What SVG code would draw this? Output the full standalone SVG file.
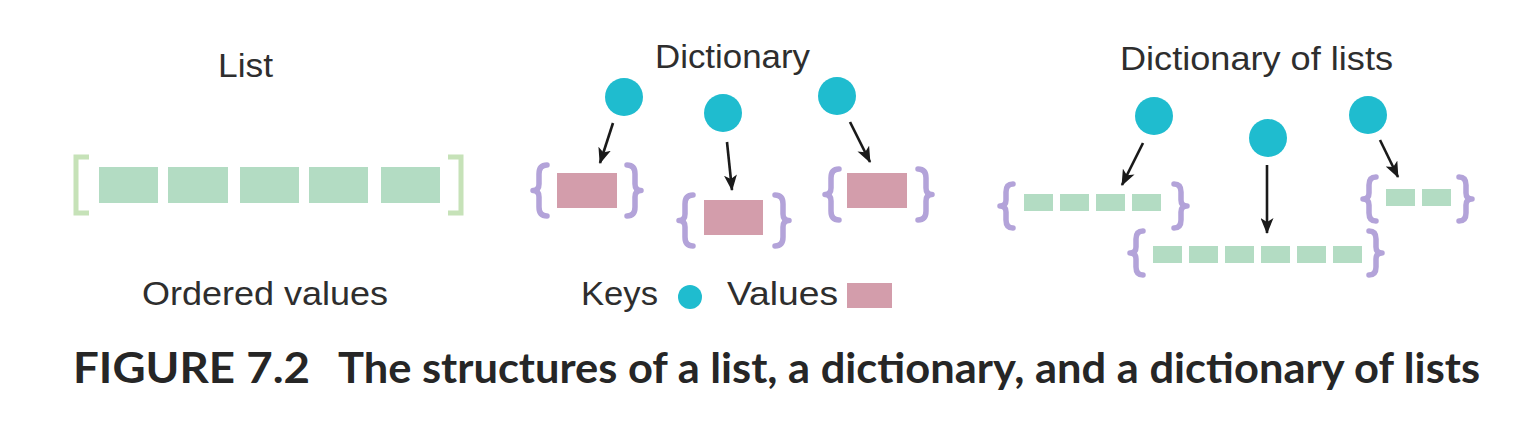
<svg xmlns="http://www.w3.org/2000/svg" width="1536" height="430" viewBox="0 0 1536 430">
<style>
.lbl{font-family:"Liberation Sans",Arial,sans-serif;font-size:34px;fill:#2e2e2e}
.cap{font-family:Lato,"Open Sans",sans-serif;font-weight:bold;font-size:42px;fill:#262626}
.key{fill:#1fbccf}
.val{fill:#d39dab}
.item{fill:#b3dcc3}
.brace{fill:none;stroke:#b3a3d9;stroke-width:5.5;stroke-linecap:round;stroke-linejoin:round}
.bracket{fill:none;stroke:#c6e2b8;stroke-width:5}
.arrow{stroke:#1a1a1a;stroke-width:2.6;fill:none;marker-end:url(#ah)}
</style>
<defs>
<marker id="ah" markerWidth="16" markerHeight="13" refX="15" refY="6.5" orient="auto" markerUnits="userSpaceOnUse">
<path d="M0,0 L16,6.5 L0,13 L4,6.5 Z" fill="#1a1a1a"/>
</marker>
<path id="braceL55" class="brace" d="M16,2 Q8,2 8,11 L8,21 Q8,27.5 2,27.5 Q8,27.5 8,34 L8,44 Q8,53 16,53"/>
<path id="braceL48" class="brace" d="M15,2 Q8,2 8,10 L8,18 Q8,24 2,24 Q8,24 8,30 L8,38 Q8,46 15,46"/>
</defs>
<rect width="1536" height="430" fill="#ffffff"/>

<!-- List -->
<g id="list">
<text class="lbl" x="218" y="77" textLength="55" lengthAdjust="spacingAndGlyphs">List</text>
<path class="bracket" d="M89,157 L76,157 L76,213 L89,213"/>
<path class="bracket" d="M448,157 L461,157 L461,213 L448,213"/>
<rect class="item" x="99" y="167" width="59" height="36"/>
<rect class="item" x="168" y="167" width="60" height="36"/>
<rect class="item" x="240" y="167" width="59" height="36"/>
<rect class="item" x="309" y="167" width="59" height="36"/>
<rect class="item" x="381" y="167" width="59" height="36"/>
<text class="lbl" x="142" y="305" textLength="246" lengthAdjust="spacingAndGlyphs">Ordered values</text>
</g>

<!-- Dictionary -->
<g id="dictionary">
<text class="lbl" x="655" y="68" textLength="155" lengthAdjust="spacingAndGlyphs">Dictionary</text>
<g id="dict-key1"><circle class="key" cx="624" cy="97" r="19"/></g>
<g id="dict-key2"><circle class="key" cx="723" cy="113" r="19"/></g>
<g id="dict-key3"><circle class="key" cx="837" cy="96" r="19"/></g>
<g id="dict-val1">
<use href="#braceL55" transform="translate(531,163)"/>
<use href="#braceL55" transform="translate(643,163) scale(-1,1)"/>
<rect class="val" x="557" y="173" width="60" height="35"/>
</g>
<g id="dict-val2">
<use href="#braceL55" transform="translate(677,193)"/>
<use href="#braceL55" transform="translate(791,193) scale(-1,1)"/>
<rect class="val" x="704" y="200" width="59" height="35"/>
</g>
<g id="dict-val3">
<use href="#braceL55" transform="translate(823,167)"/>
<use href="#braceL55" transform="translate(934,167) scale(-1,1)"/>
<rect class="val" x="847" y="173" width="60" height="35"/>
</g>
<g id="legend">
<text class="lbl" x="581" y="305" textLength="77" lengthAdjust="spacingAndGlyphs">Keys</text>
<circle class="key" cx="690" cy="297" r="12"/>
<text class="lbl" x="727" y="305" textLength="111" lengthAdjust="spacingAndGlyphs">Values</text>
<rect class="val" x="847" y="283" width="45" height="25"/>
</g>
</g>

<!-- Dictionary of lists -->
<g id="dict-of-lists">
<text class="lbl" x="1120" y="70" textLength="273" lengthAdjust="spacingAndGlyphs">Dictionary of lists</text>
<g id="dol-key1"><circle class="key" cx="1154" cy="116" r="19"/></g>
<g id="dol-key2"><circle class="key" cx="1268" cy="138" r="19"/></g>
<g id="dol-key3"><circle class="key" cx="1368" cy="115" r="19"/></g>
<g id="dol-val1">
<use href="#braceL48" transform="translate(998,182)"/>
<use href="#braceL48" transform="translate(1189,182) scale(-1,1)"/>
<rect class="item" x="1024" y="194" width="29" height="17"/>
<rect class="item" x="1060" y="194" width="29" height="17"/>
<rect class="item" x="1096" y="194" width="29" height="17"/>
<rect class="item" x="1132" y="194" width="29" height="17"/>
</g>
<g id="dol-val2">
<use href="#braceL48" transform="translate(1128,229)"/>
<use href="#braceL48" transform="translate(1384,229) scale(-1,1)"/>
<rect class="item" x="1153" y="246" width="29" height="17"/>
<rect class="item" x="1189" y="246" width="29" height="17"/>
<rect class="item" x="1225" y="246" width="29" height="17"/>
<rect class="item" x="1261" y="246" width="29" height="17"/>
<rect class="item" x="1297" y="246" width="29" height="17"/>
<rect class="item" x="1333" y="246" width="29" height="17"/>
</g>
<g id="dol-val3">
<use href="#braceL48" transform="translate(1361,175)"/>
<use href="#braceL48" transform="translate(1474,175) scale(-1,1)"/>
<rect class="item" x="1386" y="189" width="29" height="17"/>
<rect class="item" x="1422" y="189" width="29" height="17"/>
</g>
</g>

<!-- Connectors -->
<g id="connectors">
<line class="arrow" x1="613" y1="123" x2="600" y2="163"/>
<line class="arrow" x1="727" y1="142" x2="732" y2="190"/>
<line class="arrow" x1="850" y1="122" x2="870" y2="162"/>
<line class="arrow" x1="1143" y1="143" x2="1122" y2="185"/>
<line class="arrow" x1="1267" y1="165" x2="1267" y2="233"/>
<line class="arrow" x1="1380" y1="140" x2="1398" y2="177"/>
</g>

<!-- Caption -->
<g id="caption">
<text class="cap" x="73" y="383" textLength="237" lengthAdjust="spacingAndGlyphs">FIGURE 7.2</text>
<text class="cap" x="338" y="383" textLength="1142" lengthAdjust="spacingAndGlyphs">The structures of a list, a dictionary, and a dictionary of lists</text>
</g>
</svg>
